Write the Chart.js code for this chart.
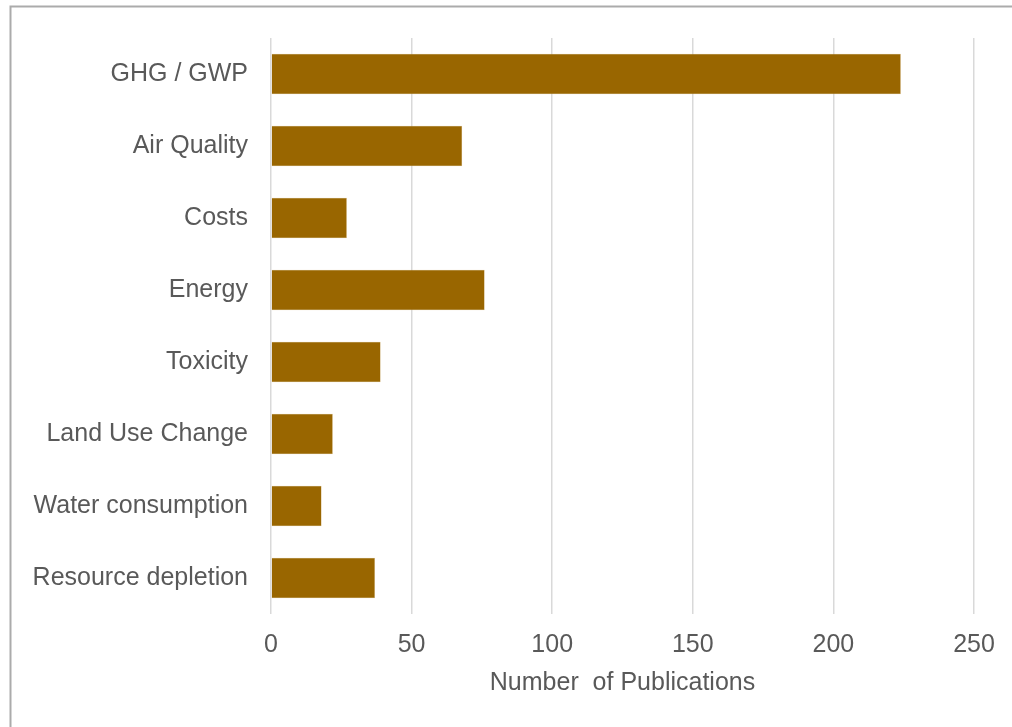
<!DOCTYPE html>
<html>
<head>
<meta charset="utf-8">
<script src="https://cdn.jsdelivr.net/npm/chart.js@4"></script>
<style>
  html, body { margin: 0; padding: 0; background: #fff; }
  #wrap { position: relative; width: 1012px; height: 727px; }
</style>
</head>
<body>
<div id="wrap"><canvas id="pubs"></canvas></div>
<script>
var categories = ['GHG / GWP', 'Air Quality', 'Costs', 'Energy', 'Toxicity',
                  'Land Use Change', 'Water consumption', 'Resource depletion'];
var publications = [224, 68, 27, 76, 39, 22, 18, 37];
var xTicks = [0, 50, 100, 150, 200, 250];
var xTitle = 'Number  of Publications';

var frame = {
   id: 'frame',
   beforeDraw: function(chart) {
      var c = chart.ctx;
      c.save();
      c.strokeStyle = '#ababab';
      c.lineWidth = 2;
      c.beginPath();
      c.moveTo(10.5, chart.height);
      c.lineTo(10.5, 6.5);
      c.lineTo(chart.width, 6.5);
      c.stroke();
      c.restore();
   }
};

var ctx = document.getElementById('pubs').getContext('2d');
var config = {
   type: 'bar',
   data: {
      labels: categories,
      datasets: [{
         label: 'Publications',
         data: publications,
         backgroundColor: '#996600',
         borderColor: '#d9bf8c',
         borderWidth: 0.5,
         barPercentage: 0.56,
         categoryPercentage: 1.0
      }]
   },
   options: {
      indexAxis: 'y',
      responsive: false,
      animation: false,
      devicePixelRatio: 1,
      layout: { padding: { left: 30, right: 38, top: 32, bottom: 29 } },
      plugins: { legend: { display: false }, tooltip: { enabled: false } },
      scales: {
         x: {
            min: 0,
            max: 250,
            afterBuildTicks: function(scale) {
               scale.ticks = xTicks.map(function(v) { return { value: v }; });
            },
            grid: { color: '#d9d9d9', lineWidth: 1.5, drawTicks: false },
            border: { display: false },
            ticks: { color: '#595959', padding: 16,
                     font: { family: 'Liberation Sans', size: 25 } },
            title: { display: true, text: xTitle, color: '#595959',
                     padding: { top: -8, bottom: 0 },
                     font: { family: 'Liberation Sans', size: 25 } }
         },
         y: {
            grid: { display: false, drawTicks: false },
            border: { display: false },
            ticks: { color: '#595959', padding: 23,
                     font: { family: 'Liberation Sans', size: 25 } },
            afterFit: function(scale) { scale.width = 241; }
         }
      }
   },
   plugins: [frame]
};

var canvas = document.getElementById('pubs');
canvas.width = 1012;
canvas.height = 727;
var chart = new Chart(ctx, config);
</script>
</body>
</html>
